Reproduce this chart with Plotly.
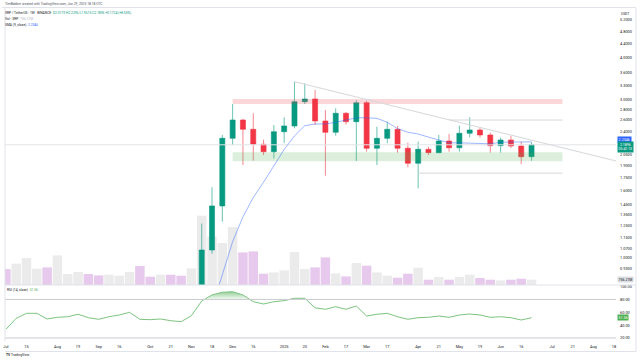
import plotly.graph_objects as go
import pandas as pd
import math

# ---------------- data (weekly XRP/USDT) ----------------
weeks = pd.date_range("2024-07-01", periods=52, freq="7D")

open_ = [0.4746, 0.4360, 0.5395, 0.5981, 0.6100, 0.5290, 0.5680, 0.6000, 0.6030, 0.5620,
         0.5440, 0.5800, 0.5920, 0.6350, 0.5360, 0.5330, 0.5450, 0.5180, 0.5030,
         0.590, 1.057, 1.434, 2.291, 2.600, 2.438, 2.198, 2.088, 2.398, 2.495, 2.952,
         3.008, 2.583, 2.388, 2.724, 2.570, 2.930, 2.138, 2.291, 2.438, 2.138, 1.927,
         2.123, 2.074, 2.248, 2.146, 2.372, 2.427, 2.344, 2.177, 2.264, 2.172, 2.0173]
high = [0.4850, 0.5485, 0.6374, 0.6385, 0.6375, 0.6440, 0.6100, 0.6290, 0.6100, 0.5820,
        0.5940, 0.5990, 0.6600, 0.6460, 0.5470, 0.5560, 0.5480, 0.5480, 0.6500,
        1.270, 1.632, 2.344, 2.905, 2.620, 2.724, 2.270, 2.512, 2.650, 3.390, 3.353,
        3.200, 2.787, 2.820, 2.750, 2.985, 2.970, 2.483, 2.570, 2.495, 2.222, 2.238,
        2.161, 2.344, 2.360, 2.500, 2.650, 2.475, 2.381, 2.300, 2.328, 2.238, 2.2296]
low = [0.3822, 0.4249, 0.5314, 0.5785, 0.5230, 0.4300, 0.5540, 0.5770, 0.5540, 0.5040,
       0.5280, 0.5650, 0.5780, 0.4990, 0.5150, 0.5320, 0.5000, 0.4986, 0.4950,
       0.576, 1.030, 1.286, 2.187, 1.904, 1.962, 2.040, 1.994, 2.220, 2.455, 2.905,
       2.512, 1.768, 2.332, 2.520, 1.958, 2.088, 1.904, 2.213, 2.074, 1.874, 1.620,
       2.041, 2.065, 2.088, 2.088, 2.307, 2.300, 2.074, 2.074, 2.140, 1.917, 1.9615]
close = [0.4360, 0.5395, 0.5981, 0.6100, 0.5290, 0.5680, 0.6000, 0.6030, 0.5620, 0.5440,
         0.5800, 0.5920, 0.6350, 0.5360, 0.5330, 0.5450, 0.5180, 0.5030, 0.5900,
         1.057, 1.434, 2.291, 2.600, 2.438, 2.198, 2.088, 2.398, 2.495, 2.952, 3.008,
         2.583, 2.388, 2.724, 2.570, 2.930, 2.138, 2.291, 2.438, 2.138, 1.927, 2.123,
         2.074, 2.248, 2.146, 2.372, 2.427, 2.344, 2.177, 2.264, 2.172, 2.017, 2.1896]
volume_m = [2283, 3040, 3853, 2326, 2512, 4224, 1570, 1855, 1570, 1370,
            1470, 1327, 1855, 2711, 1184, 1470, 1470, 1327, 2369,
            9889, 6892, 5993, 8277, 4652, 4795, 1613, 1798, 2083, 4709, 2283,
            2512, 3939, 1655, 1227, 3139, 2754, 1798, 1327, 1042, 1613, 2469,
            756, 1142, 756, 1142, 1470, 999, 756, 656, 756, 899, 756.21]
sma9 = [None] * 19 + [0.61, 0.71, 0.89, 1.12, 1.33, 1.52, 1.69, 1.89, 2.12, 2.33, 2.50,
                      2.53, 2.53, 2.56, 2.60, 2.64, 2.64, 2.63, 2.56, 2.45, 2.39, 2.36,
                      2.31, 2.27, 2.22, 2.22, 2.215, 2.205, 2.205, 2.23, 2.235, 2.235, 2.2346]
rsi14 = [33.5, 50.6, 58.4, 58.4, 49.6, 52.2, 53.1, 56.9, 51.6, 49.1, 53.1, 55.8, 60.0,
         49.1, 48.5, 49.6, 46.9, 45.4, 54.7,
         77.6, 87.0, 91.2, 92.1, 87.0, 76.5, 72.9, 76.5, 78.1, 81.8, 81.8, 67.0, 64.7,
         68.7, 64.7, 69.8, 54.2, 56.9, 58.4, 53.1, 49.1, 51.6, 52.2, 54.2, 52.2, 55.8,
         57.3, 55.8, 52.2, 53.1, 51.6, 48.0, 51.56]

price_ticks = [5.2, 4.8, 4.4, 4.0, 3.6, 3.3, 3.0, 2.8, 2.6, 2.4, 2.2, 2.05, 1.9, 1.75,
               1.6, 1.45, 1.35, 1.25, 1.15, 1.07, 1.0, 0.93]
rsi_ticks = [100, 80, 60, 40, 20]
date_ticks = ["2024-07-01", "2024-07-15", "2024-08-05", "2024-08-19", "2024-09-02",
              "2024-09-16", "2024-10-07", "2024-10-21", "2024-11-04", "2024-11-18",
              "2024-12-02", "2024-12-16", "2025-01-06", "2025-01-20", "2025-02-03",
              "2025-02-17", "2025-03-03", "2025-03-17", "2025-04-07", "2025-04-21",
              "2025-05-05", "2025-05-19", "2025-06-02", "2025-06-16", "2025-07-07",
              "2025-07-21", "2025-08-04", "2025-08-18"]
date_labels = ["Jul", "15", "Aug", "19", "Sep", "16", "Oct", "21", "Nov", "18", "Dec", "16",
               "2025", "20", "Feb", "17", "Mar", "17", "Apr", "21", "May", "19", "Jun", "16",
               "Jul", "21", "Aug", "18"]

# drawings (price levels / zones)
resist_zone = (2.905, 3.008)
support_zone = (1.955, 2.080)
zone_dates = ("2024-12-02", "2025-07-14")
level_26 = 2.60
level_26_start = "2025-04-28"
level_18 = 1.80
level_18_start = "2025-04-07"
level_full = 2.19
trend_start = ("2025-01-13", 3.39)
trend_end = ("2025-08-19 09:00", 1.958)

X_LEFT, X_RIGHT = "2024-06-30 09:20", "2025-08-19 09:00"
P_LO, P_HI = 0.8295, 5.648
RSI_LO, RSI_HI = 15.3, 102.5

# ---------------- figure geometry (pixels) ----------------
W, H = 640, 363
L, R, T, B = 3, 616, 8, 341
PANE_SPLIT = 285
split_frac = (B - PANE_SPLIT) / (B - T)


def px(x):
    return (x - L) / (R - L)


def py(y):
    return (B - y) / (B - T)


GREEN = "#089981"
RED = "#F23645"
FONT = "Roboto"
TXT = "#131722"

fig = go.Figure()

# volume (base axis, drawn behind price)
vol_colors = ["#ebebeb" if c >= o else "#e6c9ec" for o, c in zip(open_, close)]
fig.add_trace(go.Bar(x=weeks, y=volume_m, marker=dict(color=vol_colors, line=dict(width=0)),
                     xaxis="x", yaxis="y", hoverinfo="skip"))

# zones and levels (price axis)
for (lo, hi), col in ((resist_zone, "rgba(242,54,69,0.2)"), (support_zone, "rgba(76,175,80,0.2)")):
    fig.add_trace(go.Scatter(x=[zone_dates[0], zone_dates[1], zone_dates[1], zone_dates[0], zone_dates[0]],
                             y=[lo, lo, hi, hi, lo], fill="toself", fillcolor=col,
                             line=dict(width=0), mode="lines", xaxis="x", yaxis="y2", hoverinfo="skip"))
fig.add_trace(go.Scatter(x=[X_LEFT, X_RIGHT], y=[level_full, level_full], mode="lines",
                         line=dict(color="#e2e3e6", width=1), xaxis="x", yaxis="y2", hoverinfo="skip"))
fig.add_trace(go.Scatter(x=[level_26_start, zone_dates[1]], y=[level_26, level_26], mode="lines",
                         line=dict(color="#d6d7da", width=1), xaxis="x", yaxis="y2", hoverinfo="skip"))
fig.add_trace(go.Scatter(x=[level_18_start, zone_dates[1]], y=[level_18, level_18], mode="lines",
                         line=dict(color="#d6d7da", width=1), xaxis="x", yaxis="y2", hoverinfo="skip"))
fig.add_trace(go.Scatter(x=[trend_start[0], trend_end[0]], y=[trend_start[1], trend_end[1]], mode="lines",
                         line=dict(color="#d6d7da", width=1), xaxis="x", yaxis="y2", hoverinfo="skip"))

# candles
fig.add_trace(go.Candlestick(x=weeks, open=open_, high=high, low=low, close=close,
                             increasing=dict(line=dict(color="rgba(8,153,129,0.6)", width=1), fillcolor=GREEN),
                             decreasing=dict(line=dict(color="rgba(242,54,69,0.6)", width=1), fillcolor=RED),
                             xaxis="x", yaxis="y2", hoverinfo="skip"))
# SMA 9
fig.add_trace(go.Scatter(x=weeks, y=sma9, mode="lines", line=dict(color="rgba(41,98,255,0.45)", width=1),
                         xaxis="x", yaxis="y2", hoverinfo="skip"))

# RSI overbought fill (geometry only: clip the read RSI at the 80 band)
fx, fy = [], []
for i in range(len(rsi14)):
    if i > 0:
        a, b = rsi14[i - 1], rsi14[i]
        if (a - 80) * (b - 80) < 0:
            t = (80 - a) / (b - a)
            fx.append(weeks[i - 1] + (weeks[i] - weeks[i - 1]) * t)
            fy.append(80)
    fx.append(weeks[i])
    fy.append(max(rsi14[i], 80))
fig.add_trace(go.Scatter(x=fx, y=[80] * len(fx), mode="lines", line=dict(width=0),
                         xaxis="x", yaxis="y3", hoverinfo="skip"))
fig.add_trace(go.Scatter(x=fx, y=fy, mode="lines", line=dict(width=0), fill="tonexty",
                         fillgradient=dict(type="vertical",
                                           colorscale=[[0, "rgba(76,175,80,0.05)"], [1, "rgba(76,175,80,0.6)"]]),
                         xaxis="x", yaxis="y3", hoverinfo="skip"))
fig.add_trace(go.Scatter(x=weeks, y=rsi14, mode="lines", line=dict(color="#7cc47f", width=1),
                         xaxis="x", yaxis="y3", hoverinfo="skip"))

vol_top = (PANE_SPLIT - T) * (756.21 / 5.3)

tickfont = dict(family=FONT, size=3.9, color=TXT)
fig.update_layout(
    width=W, height=H, margin=dict(l=L, r=W - R, t=T, b=H - B),
    paper_bgcolor="white", plot_bgcolor="white", showlegend=False, bargap=0.08,
    xaxis=dict(type="date", range=[X_LEFT, X_RIGHT], anchor="y3", tickvals=date_ticks,
               ticktext=date_labels, showgrid=False, zeroline=False, ticks="", tickfont=tickfont,
               rangeslider=dict(visible=False), showline=False, ticklabelstandoff=2),
    yaxis=dict(domain=[split_frac, 1], range=[0, vol_top], visible=False, fixedrange=True),
    yaxis2=dict(overlaying="y", side="right", type="log", range=[math.log10(P_LO), math.log10(P_HI)],
                tickvals=price_ticks, ticktext=[f"{v:.4f}" for v in price_ticks], showgrid=False,
                zeroline=False, ticks="", tickfont=tickfont, anchor="x", ticklabelstandoff=3),
    yaxis3=dict(domain=[0, split_frac], range=[RSI_LO, RSI_HI], side="right", anchor="x",
                tickvals=rsi_ticks, ticktext=[f"{v:.2f}" for v in rsi_ticks], showgrid=False,
                zeroline=False, ticks="", tickfont=tickfont, ticklabelstandoff=3),
)

shapes = []
# RSI bands
for lvl in (80, 20):
    shapes.append(dict(type="line", xref="paper", yref="y3", x0=0, x1=1, y0=lvl, y1=lvl,
                       line=dict(color="#c9cbd0", width=1)))
# frame lines
shapes.append(dict(type="line", xref="paper", yref="paper", x0=px(0), x1=px(636), y0=py(7.5), y1=py(7.5),
                   line=dict(color="#e0e3eb", width=1)))
shapes.append(dict(type="line", xref="paper", yref="paper", x0=0, x1=px(636), y0=split_frac, y1=split_frac,
                   line=dict(color="#e0e3eb", width=1)))
shapes.append(dict(type="line", xref="paper", yref="paper", x0=px(636), x1=px(636), y0=py(7.5), y1=py(351.5),
                   line=dict(color="#e0e3eb", width=1)))
shapes.append(dict(type="line", xref="paper", yref="paper", x0=0, x1=px(636), y0=py(351.5), y1=py(351.5),
                   line=dict(color="#e0e3eb", width=1)))
shapes.append(dict(type="line", xref="paper", yref="paper", x0=0, x1=0, y0=0, y1=1,
                   line=dict(color="#e0e3eb", width=1)))
fig.update_layout(shapes=shapes)

ann = []


def text(x, y, s, size=3.3, color=TXT, anchor="left", bg=None, pad=0):
    d = dict(xref="paper", yref="paper", x=px(x), y=py(y), text=s, showarrow=False,
             xanchor=anchor, yanchor="middle", font=dict(family=FONT, size=size, color=color), borderpad=pad)
    if bg:
        d["bgcolor"] = bg
    ann.append(d)


text(2, 4, "TimBabber created with TradingView.com, Jun 29, 2025 18:18 UTC", size=3.3, color="#50535e")
g = "#089981"
text(2, 13.3, "XRP / TetherUS · 1W · BINANCE  "
     f"<span style='color:{g}'>O</span><span style='color:{g}'>2.0173</span> "
     f"<span style='color:{g}'>H2.2296</span> <span style='color:{g}'>L1.9615</span> "
     f"<span style='color:{g}'>C2.1896</span> <span style='color:{g}'>+0.1724 (+8.55%)</span>", size=3.3)
text(2, 19.2, "Vol · XRP  <span style='color:#b2b5be'>756.21M</span>", size=3.3)
text(2, 25, "SMA (9, close)  <span style='color:#2962ff'>2.2346</span>", size=3.3)
text(4, 290, "RSI (14, close)  <span style='color:#4caf50'>51.56</span>", size=3.3)
text(625, 14, "USDT", size=3.3, anchor="center")
text(617.5, 140, "2.2346", size=3.7, color="white", bg="#2962ff", pad=0.6)
text(617.5, 146.5, "2.1896<br>05:41:13", size=3.5, color="white", bg=GREEN, pad=0.6)
text(617.5, 279.5, "756.21M", size=3.5, color=TXT, bg="#dcdee3", pad=0.6)
text(617.5, 317, "51.56", size=3.7, color="white", bg="#4caf50", pad=0.6)
text(3, 354.5, "<b>TV</b> TradingView", size=3.3, color="#131722")
fig.update_layout(annotations=ann)

fig.write_html("out.html", config={"displayModeBar": False},
               post_script="document.body.style.margin='0px';document.body.style.overflow='hidden';")
